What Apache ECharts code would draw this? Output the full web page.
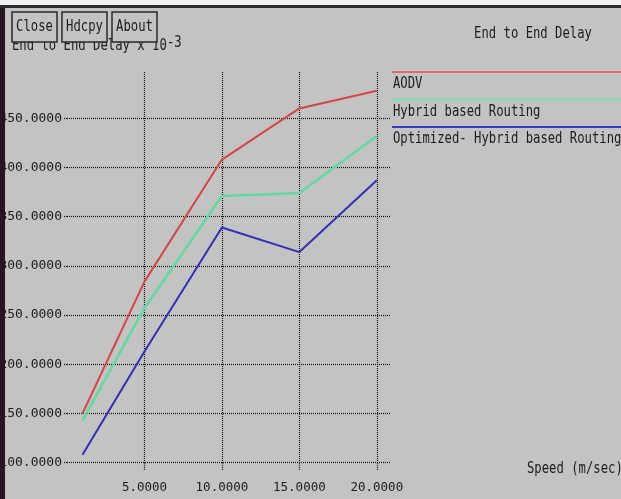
<!DOCTYPE html>
<html>
<head>
<meta charset="utf-8">
<script src="https://cdn.jsdelivr.net/npm/echarts@6/dist/echarts.min.js"></script>
<style>
  html, body { margin: 0; padding: 0; background: #c3c3c3; }
  #chart { width: 621px; height: 499px; }
</style>
</head>
<body>
<div id="chart"></div>
<script>
// Speed (m/sec) on the x axis
const speeds = [1, 5, 10, 15, 20];

// End to end delay (x 10^-3) per protocol
const seriesNames = ['AODV', 'Hybrid based Routing', 'Optimized- Hybrid based Routing'];
const aodvDelay = [150, 284, 408, 460, 478];
const hybridDelay = [143, 257, 371, 374, 432];
const optimizedDelay = [108, 213, 339, 314, 387];

// Tick positions
const xTicks = [5, 10, 15, 20];
const yTicks = [100, 150, 200, 250, 300, 350, 400, 450];

const buttonLabels = ['Close', 'Hdcpy', 'About'];
const titleText = 'End to End Delay';
const yTitleText = 'End to End Delay x 10';
const yTitleExp = '-3';
const xTitleText = 'Speed (m/sec)';

const BG = '#c3c3c3';
const INK = '#1c1c1c';
const lineColors = ['#d24646', '#62d9a0', '#3030b4'];
const legendColors = ['#e46a6a', '#74e2ac', '#3a3ac4'];
const MONO = '"DejaVu Sans Mono", "Liberation Mono", monospace';
const gridDots = { color: '#111111', type: [1, 1], width: 1.2 };

// Tall, narrow terminal-style text
function termText(text, x, y, align, extra) {
  return Object.assign({
    type: 'text',
    x: x, y: y,
    scaleX: 0.765,
    z: 10,
    style: {
      text: text,
      font: '16px ' + MONO,
      fill: INK,
      align: align || 'left',
      verticalAlign: 'middle'
    }
  }, extra || {});
}

const chart = echarts.init(document.getElementById('chart'), null, { renderer: 'canvas' });

const graphics = [];

// window frame: light strip and dark border on top, dark edge on the left
graphics.push({ type: 'rect', z: 20, shape: { x: 0, y: 0, width: 621, height: 5 }, style: { fill: '#f2f2f2' } });
graphics.push({ type: 'rect', z: 20, shape: { x: 0, y: 5, width: 621, height: 3 }, style: { fill: '#2a2a2a' } });
graphics.push({ type: 'rect', z: 20, shape: { x: 0, y: 8, width: 5, height: 491 }, style: { fill: '#2a1424' } });

// y axis title with exponent
graphics.push(termText(yTitleText, 12, 46, 'left'));
graphics.push(termText(yTitleExp, 167, 43, 'left'));

// buttons
buttonLabels.forEach(function (label, i) {
  const bx = 12 + i * 50;
  graphics.push({
    type: 'rect', z: 12,
    shape: { x: bx, y: 12, width: 45, height: 30 },
    style: { fill: BG, stroke: '#2a2a2a', lineWidth: 1.5 }
  });
  graphics.push(termText(label, bx + 22.5, 27, 'center', { z: 13 }));
});

// chart title
graphics.push(termText(titleText, 533, 34, 'center'));

// legend: coloured rule with the series name underneath
seriesNames.forEach(function (name, i) {
  const ly = 72 + i * 27.5;
  graphics.push({
    type: 'line', z: 10,
    shape: { x1: 392, y1: ly, x2: 621, y2: ly },
    style: { stroke: legendColors[i], lineWidth: 2 }
  });
  graphics.push(termText(name, 393, ly + 12, 'left'));
});

// x axis title
graphics.push(termText(xTitleText, 527, 469, 'left'));

const delays = [aodvDelay, hybridDelay, optimizedDelay];
const widths = [2, 2.5, 2];

chart.setOption({
  backgroundColor: BG,
  animation: false,
  grid: {
    left: 67, right: 231, top: 72, bottom: 36.3,
    containLabel: false,
    outerBoundsMode: 'none'
  },
  xAxis: {
    type: 'value',
    min: 0, max: 20.85, interval: 5,
    axisLine: { show: false },
    axisTick: { show: true, inside: false, length: 8, customValues: xTicks, lineStyle: gridDots },
    axisLabel: {
      customValues: xTicks,
      formatter: function (v) { return v.toFixed(4); },
      fontFamily: MONO, fontSize: 12.5, color: INK, margin: 19
    },
    splitLine: { show: true, showMinLine: true, showMaxLine: true, lineStyle: gridDots }
  },
  yAxis: {
    type: 'value',
    min: 100, max: 497, interval: 50,
    axisLine: { show: false },
    axisTick: { show: true, inside: false, length: 4, customValues: yTicks, lineStyle: gridDots },
    axisLabel: {
      customValues: yTicks,
      formatter: function (v) { return v.toFixed(4); },
      fontFamily: MONO, fontSize: 13, color: INK, margin: 5
    },
    splitLine: { show: true, showMinLine: true, showMaxLine: true, lineStyle: gridDots }
  },
  series: seriesNames.map(function (name, i) {
    return {
      name: name,
      type: 'line',
      symbol: 'none',
      data: speeds.map(function (s, k) { return [s, delays[i][k]]; }),
      lineStyle: { color: lineColors[i], width: widths[i] },
      z: 5 + i
    };
  }),
  graphic: graphics
});
</script>
</body>
</html>
